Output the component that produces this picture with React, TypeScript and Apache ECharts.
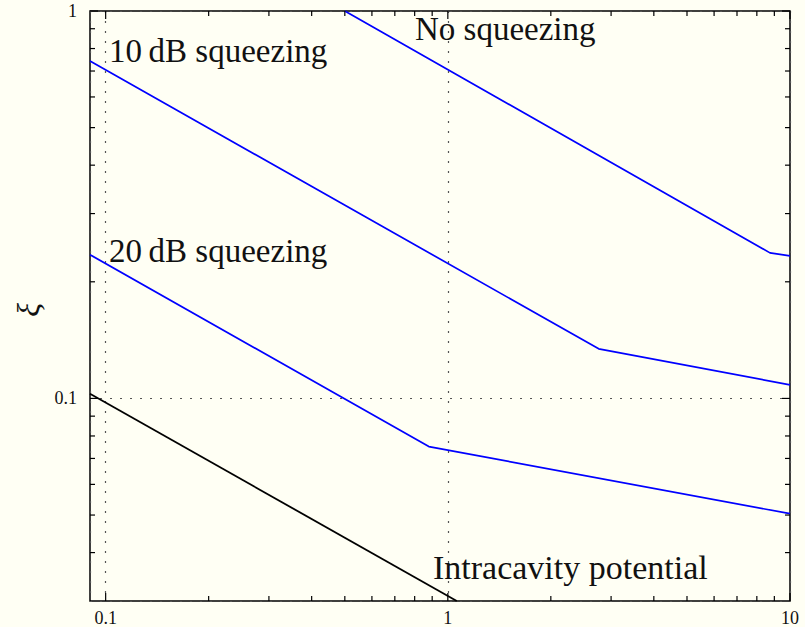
import React, { useEffect, useRef } from "react";
import * as echarts from "echarts";

// Axis ranges
const X_MIN = 0.09;
const X_MAX = 10;
const Y_MIN = 0.03;
const Y_MAX = 1;

// Series values [x, xi]
const noSqueezing: [number, number][] = [
  [0.5, 1.0],
  [8.74, 0.2375],
  [10, 0.2333],
];
const tenDb: [number, number][] = [
  [0.09, 0.743],
  [2.76, 0.1343],
  [10, 0.1084],
];
const twentyDb: [number, number][] = [
  [0.09, 0.235],
  [0.88, 0.0751],
  [10, 0.0504],
];
const intracavity: [number, number][] = [
  [0.09, 0.1028],
  [1.062, 0.03],
];

// Tick positions
const xMajorTicks = [0.1, 1, 10];
const xMinorTicks = [0.2, 0.3, 0.4, 0.5, 0.6, 0.7, 0.8, 0.9, 2, 3, 4, 5, 6, 7, 8, 9];
const yMajorTicks = [0.1, 1];
const yMinorTicks = [0.04, 0.05, 0.06, 0.07, 0.08, 0.09, 0.2, 0.3, 0.4, 0.5, 0.6, 0.7, 0.8, 0.9];

// Annotation texts
const labelNo = "No squeezing";
const label10 = "10\u2009dB squeezing";
const label20 = "20\u2009dB squeezing";
const labelIntra = "Intracavity potential";
const yName = "ξ";

const FONT = "Liberation Serif";
const BG = "#fffff4";

function isPow10(v: number) {
  const l = Math.log10(v);
  return Math.abs(l - Math.round(l)) < 1e-6;
}
function fmt(v: number) {
  if (!isPow10(v)) return "";
  return String(Number(v.toPrecision(6)));
}

export default function App() {
  const ref = useRef<HTMLDivElement>(null);
  useEffect(() => {
    document.body.style.margin = "0";
    document.body.style.background = BG;
    const chart = echarts.init(ref.current!, null, { renderer: "svg" });

    const tickData: number[][] = [];
    xMajorTicks.forEach((v) => tickData.push([v, Y_MIN, 1, 0]));
    xMinorTicks.forEach((v) => tickData.push([v, Y_MIN, 0, 0]));
    yMajorTicks.forEach((v) => tickData.push([X_MIN, v, 1, 1]));
    yMinorTicks.forEach((v) => tickData.push([X_MIN, v, 0, 1]));

    const blue = "#0000ff";
    const lineSeries = (name: string, data: [number, number][], color: string) => ({
      name,
      type: "line",
      data,
      showSymbol: false,
      symbol: "none",
      lineStyle: { color, width: 1.7 },
      clip: true,
      z: 3,
    });

    chart.setOption({
      animation: false,
      backgroundColor: BG,
      grid: {
        left: 90,
        top: 11,
        right: 15,
        bottom: 25,
        show: true,
        borderColor: "#000",
        borderWidth: 1.5,
        backgroundColor: "transparent",
      },
      xAxis: {
        type: "log",
        logBase: 10,
        min: X_MIN,
        max: X_MAX,
        axisLine: { show: false },
        axisTick: { show: false },
        axisLabel: {
          formatter: (v: number) => fmt(v),
          fontFamily: FONT,
          fontSize: 18,
          color: "#111",
          margin: 8,
          showMinLabel: false,
        },
        splitLine: {
          show: true,
          lineStyle: { color: "#555", type: [2, 8], width: 1.2 },
        },
      },
      yAxis: {
        type: "log",
        logBase: 10,
        min: Y_MIN,
        max: Y_MAX,
        axisLine: { show: false },
        axisTick: { show: false },
        axisLabel: {
          formatter: (v: number) => fmt(v),
          fontFamily: FONT,
          fontSize: 18,
          color: "#111",
          margin: 13,
          showMinLabel: false,
        },
        splitLine: {
          show: true,
          lineStyle: { color: "#555", type: [2, 8], width: 1.2 },
        },
      },
      series: [
        lineSeries(labelNo, noSqueezing, blue),
        lineSeries(label10, tenDb, blue),
        lineSeries(label20, twentyDb, blue),
        { ...lineSeries(labelIntra, intracavity, "#000"), lineStyle: { color: "#000", width: 1.8 } },
        {
          type: "custom",
          name: "ticks",
          data: tickData,
          silent: true,
          clip: false,
          z: 4,
          renderItem: (params: any, api: any) => {
            const major = api.value(2) === 1;
            const kind = api.value(3);
            const len = major ? 8 : 5;
            const style = { stroke: "#000", lineWidth: 1.2 };
            if (kind === 0) {
              const v = api.value(0);
              const b = api.coord([v, Y_MIN]);
              const t = api.coord([v, Y_MAX]);
              return {
                type: "group",
                children: [
                  { type: "line", shape: { x1: b[0], y1: b[1], x2: b[0], y2: b[1] - len }, style },
                  { type: "line", shape: { x1: t[0], y1: t[1], x2: t[0], y2: t[1] + len }, style },
                ],
              };
            }
            const v = api.value(1);
            const l = api.coord([X_MIN, v]);
            const r = api.coord([X_MAX, v]);
            return {
              type: "group",
              children: [
                { type: "line", shape: { x1: l[0], y1: l[1], x2: l[0] + len, y2: l[1] }, style },
                { type: "line", shape: { x1: r[0], y1: r[1], x2: r[0] - len, y2: r[1] }, style },
              ],
            };
          },
        },
      ],
      graphic: [
        {
          type: "text",
          x: 415,
          y: 29,
          style: { text: labelNo, font: `33px '${FONT}'`, fill: "#111", verticalAlign: "middle" },
          z: 10,
        },
        {
          type: "text",
          x: 109,
          y: 51,
          style: { text: label10, font: `33px '${FONT}'`, fill: "#111", verticalAlign: "middle" },
          z: 10,
        },
        {
          type: "text",
          x: 109,
          y: 251,
          style: { text: label20, font: `33px '${FONT}'`, fill: "#111", verticalAlign: "middle" },
          z: 10,
        },
        {
          type: "text",
          x: 433,
          y: 567,
          style: { text: labelIntra, font: `34px '${FONT}'`, fill: "#111", verticalAlign: "middle" },
          z: 10,
        },
        {
          type: "text",
          x: 28,
          y: 310,
          rotation: Math.PI / 2,
          style: {
            text: yName,
            font: `italic 32px '${FONT}'`,
            fill: "#111",
            align: "center",
            verticalAlign: "middle",
          },
          z: 10,
        },
      ],
    });
    return () => chart.dispose();
  }, []);
  return (
    <div
      ref={ref}
      style={{ position: "fixed", left: 0, top: 0, width: 805, height: 627, background: BG }}
    />
  );
}
